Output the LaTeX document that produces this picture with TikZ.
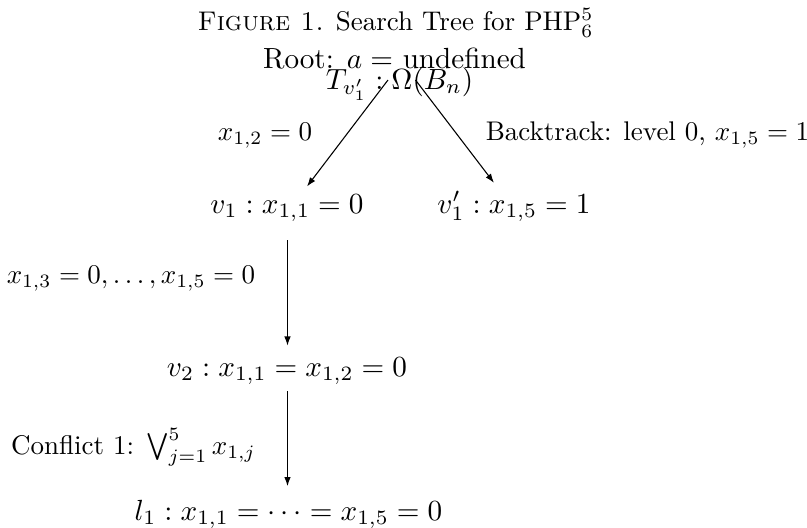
\RequirePackage{fix-cm}
\documentclass[tikz,border=0pt]{standalone}
\usetikzlibrary{arrows.meta}
\begin{document}
\begin{tikzpicture}[x=0.37037pt,y=-0.37037pt,
  nodefont/.style={font=\fontsize{10.8}{13}\selectfont},
  tnode/.style={nodefont, anchor=base},
  lab/.style={font=\fontsize{10}{12}\selectfont, anchor=base},
  arr/.style={-{Latex[length=3.4pt,width=2.4pt]}, line width=0.4pt}]
\useasboundingbox (0,0) rectangle (807,528);
\node[lab] (title) at (395.5,30.7) {\textsc{Figure 1.} Search Tree for PHP$^5_6$};
\node[tnode] (root) at (394.5,68) {Root: $a=$ undefined};
\node[tnode] (T) at (399.5,89) {$T_{v'_1} : \Omega(B_n)$};
\node[tnode] (v1) at (287,213.3) {$v_1 : x_{1,1} = 0$};
\node[tnode] (v1p) at (514,213.3) {$v'_1 : x_{1,5} = 1$};
\node[tnode] (v2) at (287,376) {$v_2 : x_{1,1} = x_{1,2} = 0$};
\node[tnode] (l1) at (288.5,520) {$l_1 : x_{1,1} = \cdots = x_{1,5} = 0$};
\node[lab] (lab1) at (265,140) {$x_{1,2} = 0$};
\node[lab] (lab2) at (647.5,140.5) {Backtrack: level 0, $x_{1,5} = 1$};
\node[lab] (lab3) at (131,283) {$x_{1,3} = 0, \ldots, x_{1,5} = 0$};
\node[lab] (lab4) at (133.5,454) {Conflict 1: $\bigvee_{j=1}^5 x_{1,j}$};
\draw[arr] ([shift={(-11.5,-9)}]T.base) -- ([shift={(20,1.5)}]v1.north);
\draw[arr] ([shift={(16,-9)}]T.base) -- ([shift={(-20,1)}]v1p.north);
\draw[arr] ([shift={(0.5,9)}]v1.south) -- ([shift={(0.5,-2)}]v2.north);
\draw[arr] ([shift={(0.5,-2.5)}]v2.south) -- ([shift={(-1,-4)}]l1.north);
\end{tikzpicture}
\end{document}
